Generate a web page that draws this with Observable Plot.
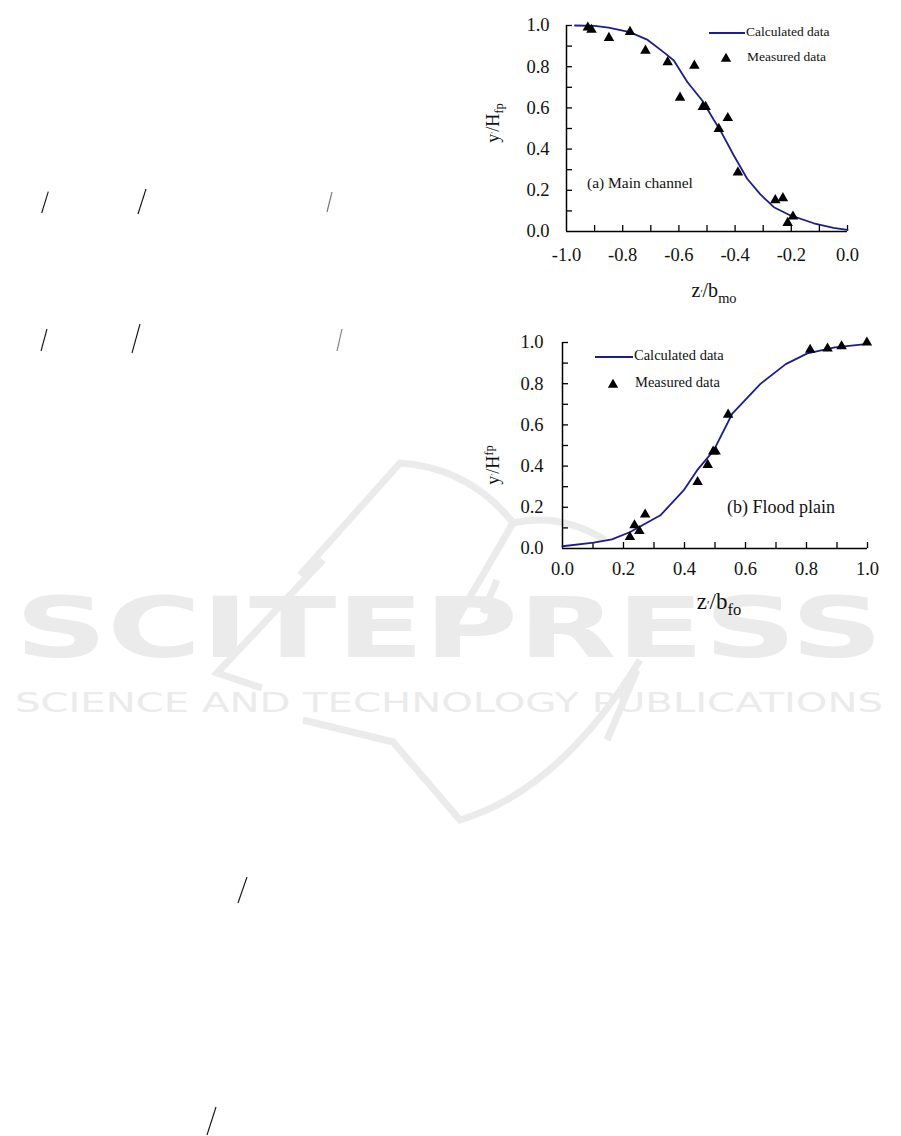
<!DOCTYPE html>
<html>
<head>
<meta charset="utf-8">
<script src="https://cdn.jsdelivr.net/npm/d3@7"></script>
<script src="https://cdn.jsdelivr.net/npm/@observablehq/plot@0.6"></script>
<style>
  html, body { margin: 0; padding: 0; background: #fff; }
  #page { position: relative; width: 901px; height: 1136px; overflow: hidden; font-family: "Liberation Serif", "Times New Roman", serif; }
  .layer { position: absolute; left: 0; top: 0; }
  .chart { position: absolute; }
</style>
</head>
<body>
<div id="page">
  <svg class="layer" id="bg" width="901" height="1136"></svg>
  <div class="chart" id="chartA" style="left:480px;top:0px;"></div>
  <div class="chart" id="chartB" style="left:480px;top:320px;"></div>
  <svg class="layer" id="fg" width="901" height="1136" style="pointer-events:none"></svg>
</div>
<script>
// ---------- Data: (a) Main channel ----------
const aCalcX = [-0.97, -0.90, -0.85, -0.775, -0.711, -0.65, -0.618, -0.57, -0.517, -0.475, -0.452, -0.405, -0.357, -0.31, -0.262, -0.203, -0.12, -0.05, 0.0];
const aCalcY = [1.0, 0.998, 0.99, 0.968, 0.93, 0.866, 0.83, 0.726, 0.636, 0.54, 0.49, 0.37, 0.256, 0.18, 0.118, 0.078, 0.04, 0.018, 0.008];
const aMeasX = [-0.924, -0.911, -0.849, -0.774, -0.719, -0.640, -0.596, -0.545, -0.515, -0.505, -0.458, -0.426, -0.390, -0.257, -0.230, -0.213, -0.194];
const aMeasY = [0.99, 0.979, 0.94, 0.969, 0.878, 0.822, 0.650, 0.805, 0.605, 0.605, 0.498, 0.551, 0.287, 0.152, 0.162, 0.042, 0.073];
const aXTickLabels = [-1.0, -0.8, -0.6, -0.4, -0.2, 0.0];
const aXTicks = [-0.9, -0.8, -0.7, -0.6, -0.5, -0.4, -0.3, -0.2, -0.1, 0.0];
const yTickLabels = [0.0, 0.2, 0.4, 0.6, 0.8, 1.0];
const yTicks = [0.1, 0.2, 0.3, 0.4, 0.5, 0.6, 0.7, 0.8, 0.9, 1.0];

// ---------- Data: (b) Flood plain ----------
const bCalcX = [0.0, 0.102, 0.162, 0.222, 0.321, 0.397, 0.441, 0.496, 0.556, 0.649, 0.732, 0.803, 0.893, 0.994];
const bCalcY = [0.011, 0.029, 0.044, 0.08, 0.161, 0.282, 0.379, 0.476, 0.653, 0.799, 0.895, 0.947, 0.976, 0.992];
const bMeasX = [0.221, 0.236, 0.252, 0.271, 0.443, 0.476, 0.494, 0.502, 0.543, 0.812, 0.869, 0.915, 0.998];
const bMeasY = [0.056, 0.113, 0.085, 0.165, 0.323, 0.406, 0.471, 0.471, 0.650, 0.965, 0.971, 0.982, 1.0];
const bXTickLabels = [0.0, 0.2, 0.4, 0.6, 0.8, 1.0];
const bXTicks = [0.1, 0.2, 0.3, 0.4, 0.5, 0.6, 0.7, 0.8, 0.9, 1.0];

const legendLabels = ["Calculated data", "Measured data"];
const LINE_COLOR = "#1d1d8e";
const SERIF = "'Liberation Serif', 'Times New Roman', serif";

function makeChart({calcX, calcY, measX, measY, xDomain, xTickLabels, xTicks, width, height, mL, mR, mT, mB, padX, padY}) {
  const innerW = width - mL - mR;
  const innerH = height - mT - mB;
  const calc = calcX.map((x, i) => ({x, y: calcY[i]}));
  const meas = measX.map((x, i) => ({x, y: measY[i]}));
  const fmt = d => d.toFixed(1);
  return Plot.plot({
    width, height,
    marginLeft: mL, marginRight: mR, marginTop: mT, marginBottom: mB,
    x: {domain: xDomain},
    y: {domain: [0, 1]},
    style: {fontFamily: SERIF, fontSize: "18.5px", color: "#111", background: "transparent", overflow: "visible"},
    marks: [
      Plot.ruleX(xTicks, {x: d => d, insetTop: innerH - 6, stroke: "#000", strokeWidth: 1.3}),
      Plot.ruleY(yTicks, {y: d => d, insetRight: innerW - 6, stroke: "#000", strokeWidth: 1.3}),
      Plot.ruleY([0], {stroke: "#000", strokeWidth: 1.5}),
      Plot.ruleX([xDomain[0]], {stroke: "#000", strokeWidth: 1.5}),
      Plot.axisX({ticks: xTickLabels, tickSize: 0, tickPadding: padX, tickFormat: fmt, label: null}),
      Plot.axisY({ticks: yTickLabels, tickSize: 0, tickPadding: padY, tickFormat: fmt, label: null}),
      Plot.line(calc, {x: "x", y: "y", stroke: LINE_COLOR, strokeWidth: 1.8}),
      Plot.dot(meas, {x: "x", y: "y", symbol: "triangle", fill: "#000", stroke: "none", r: 3.9})
    ]
  });
}

document.getElementById("chartA").appendChild(makeChart({
  calcX: aCalcX, calcY: aCalcY, measX: aMeasX, measY: aMeasY,
  xDomain: [-1, 0], xTickLabels: aXTickLabels, xTicks: aXTicks,
  width: 400, height: 310, mL: 86, mR: 33, mT: 25, mB: 79, padX: 16, padY: 17
}));
document.getElementById("chartB").appendChild(makeChart({
  calcX: bCalcX, calcY: bCalcY, measX: bMeasX, measY: bMeasY,
  xDomain: [0, 1], xTickLabels: bXTickLabels, xTicks: bXTicks,
  width: 400, height: 300, mL: 82, mR: 13, mT: 22, mB: 72, padX: 13, padY: 19
}));

// ---------- Background decorations (watermark + stray marks) ----------
const NS = "http://www.w3.org/2000/svg";
function el(parent, tag, attrs, text) {
  const e = document.createElementNS(NS, tag);
  for (const k in attrs) e.setAttribute(k, attrs[k]);
  if (text != null) e.textContent = text;
  parent.appendChild(e);
  return e;
}
const bg = document.getElementById("bg");
const wm = "#ebebeb";
el(bg, "path", {d: "M300 575 L400 463 Q470 468 513 523 Q560 512 605 540", fill: "none", stroke: wm, "stroke-width": 7});
el(bg, "path", {d: "M513 523 L445 640 M323 560 L217 673 L262 688", fill: "none", stroke: wm, "stroke-width": 7});
el(bg, "path", {d: "M303 720 L393 742 L460 820 Q560 790 640 660 M497 580 L483 613 M637 670 L607 740", fill: "none", stroke: wm, "stroke-width": 7});
el(bg, "text", {x: 15, y: 657, "font-family": "'DejaVu Sans', sans-serif", "font-weight": "bold", "font-size": 84, fill: wm, textLength: 868, lengthAdjust: "spacingAndGlyphs"}, "SCITEPRESS");
el(bg, "text", {x: 15, y: 712, "font-family": "'DejaVu Sans', sans-serif", "font-size": 26, fill: wm, textLength: 868, lengthAdjust: "spacingAndGlyphs"}, "SCIENCE AND TECHNOLOGY PUBLICATIONS");
const slashes = [[41.7,213,48.3,191.7,"#111"],[138,214,146,189,"#111"],[327,212,332,192,"#777"],[41,351,47,329,"#111"],[132,353,140,324,"#111"],[337,351,342,329,"#777"],[238,903,247,877,"#111"],[207,1135,216,1107,"#111"]];
for (const [x1,y1,x2,y2,c] of slashes) el(bg, "line", {x1, y1, x2, y2, stroke: c, "stroke-width": 1.1});

// ---------- Foreground: legends, annotations, axis titles ----------
const fg = document.getElementById("fg");
function legend(lx1, lx2, ly, tx, tri, ty2, fs) {
  el(fg, "line", {x1: lx1, x2: lx2, y1: ly, y2: ly, stroke: LINE_COLOR, "stroke-width": 1.8});
  el(fg, "text", {x: tx, y: ly, "font-family": SERIF, "font-size": fs, "dominant-baseline": "middle", fill: "#111"}, legendLabels[0]);
  const s = 5.2;
  el(fg, "path", {d: `M${tri} ${ty2 - s} L${tri + s} ${ty2 + s * 0.7} L${tri - s} ${ty2 + s * 0.7} Z`, fill: "#000"});
  el(fg, "text", {x: tx + 1, y: ty2, "font-family": SERIF, "font-size": fs, "dominant-baseline": "middle", fill: "#111"}, legendLabels[1]);
}
legend(709, 745, 33, 746, 726, 58, 13.5);
legend(595, 633, 357, 634, 613, 384, 14.5);

el(fg, "text", {x: 587, y: 184, "font-family": SERIF, "font-size": 15.5, "dominant-baseline": "middle", fill: "#111"}, "(a) Main channel");
el(fg, "text", {x: 727, y: 509, "font-family": SERIF, "font-size": 18, "dominant-baseline": "middle", fill: "#111"}, "(b) Flood plain");

function xTitle(cx, y, fs, sub) {
  const t = el(fg, "text", {x: cx, y, "font-family": SERIF, "font-size": fs, "text-anchor": "middle", fill: "#111"});
  el(t, "tspan", {}, "z");
  el(t, "tspan", {"font-size": fs * 0.5}, "\u2032");
  el(t, "tspan", {}, "/b");
  el(t, "tspan", {"font-size": fs * 0.72, dy: fs * 0.28}, sub);
}
xTitle(714, 297, 20, "mo");
xTitle(719, 609, 23, "fo");

function yTitle(cx, cy, fs, super_) {
  const t = el(fg, "text", {x: 0, y: 0, transform: `translate(${cx},${cy}) rotate(-90)`, "font-family": SERIF, "font-size": fs, "text-anchor": "middle", "dominant-baseline": "middle", fill: "#111"});
  el(t, "tspan", {}, "y");
  el(t, "tspan", {"font-size": fs * 0.5}, "\u2032");
  el(t, "tspan", {}, "/H");
  el(t, "tspan", {"font-size": fs * 0.7, dy: super_ ? -fs * 0.3 : fs * 0.28}, "fp");
}
yTitle(495, 123, 18, false);
yTitle(495, 465, 18, true);
</script>
</body>
</html>
